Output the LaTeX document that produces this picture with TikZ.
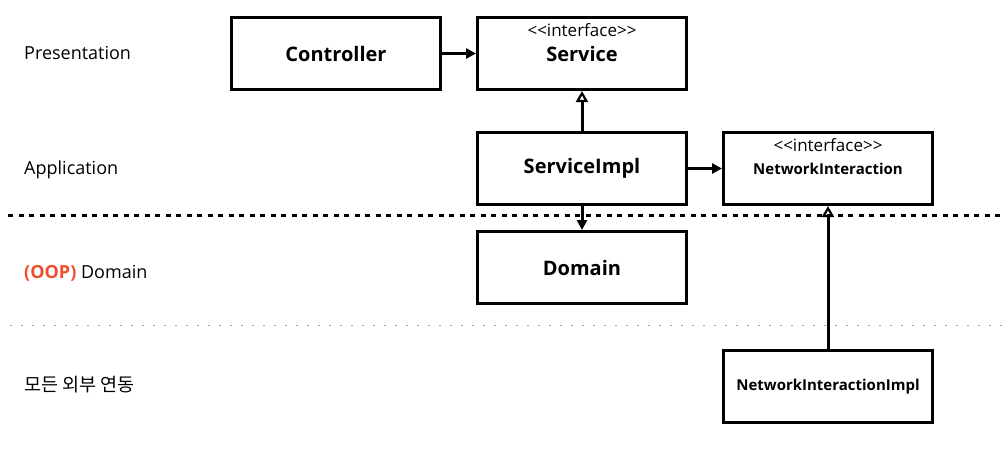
\documentclass[tikz,border=0pt]{standalone}
\usepackage{fontspec}
\setmainfont{Open Sans}
\newfontfamily\plainsans{Open Sans}[Ligatures=TeXOff]
\newfontfamily\kr{Noto Sans CJK KR}
\usetikzlibrary{arrows.meta}
\definecolor{oop}{RGB}{240,75,45}
\definecolor{dotgray}{RGB}{160,160,160}
\tikzset{
  box/.style={draw=black, line width=3pt, fill=white, minimum width=209pt, minimum height=72pt, inner sep=0pt, font=\fontsize{20}{24}\selectfont\bfseries},
  smallbox/.style={box, font=\fontsize{15}{18}\selectfont\bfseries},
  stereo/.style={inner sep=0pt, font=\plainsans\fontsize{17}{20}\selectfont},
  layer/.style={anchor=west, inner sep=0pt, font=\fontsize{18}{21}\selectfont},
  uses/.style={line width=3pt, -{Triangle[length=10pt,width=10pt]}},
  impl/.style={line width=3pt, -{Triangle[open,length=11pt,width=12pt,line width=2.2pt]}},
  bigdash/.style={line width=3pt, dash pattern=on 5pt off 5.5pt},
  thindot/.style={line width=1.2pt, draw=dotgray, dash pattern=on 2pt off 9pt}
}
\newcommand{\stereotype}{<<interface>>}
\begin{document}
\begin{tikzpicture}[x=1pt,y=-1pt]
\useasboundingbox (0,0) rectangle (1005,448);
% layer separators
\coordinate (d1l) at (8,215);
\coordinate (d1r) at (1005,215);
\coordinate (d2l) at (10,325.5);
\coordinate (d2r) at (1005,325.5);
\draw[bigdash] (d1l) -- (d1r);
\draw[thindot] (d2l) -- (d2r);
% layer labels
\node[layer] (lp) at (24,53) {Presentation};
\node[layer] (la) at (24,170) {Application};
\node[layer] (ld) at (24,273) {\textcolor{oop}{\bfseries (OOP)} Domain};
\node[layer] (lk) at (24,385) {\kr\fontsize{18.5}{21}\selectfont 모든 외부 연동};
% boxes
\node[box] (ctrl) at (336,53.5) {Controller};
\node[box] (svc) at (582,53.5) {Service};
\node[box] (simpl) at (582,168.5) {ServiceImpl};
\node[smallbox] (ni) at (828,168.5) {NetworkInteraction};
\node[box] (dom) at (582,267.5) {Domain};
\node[smallbox] (nii) at (828,386.5) {NetworkInteractionImpl};
\node[stereo] (s1) at (582,30) {\stereotype};
\node[stereo] (s2) at (828,145.5) {\stereotype};
% connectors
\draw[uses] (ctrl.east) -- (svc.west);
\draw[impl] (simpl.north) -- (svc.south);
\draw[uses] (simpl.east) -- (ni.west);
\draw[uses] (simpl.south) -- (dom.north);
\draw[impl] (nii.north) -- (ni.south);
\end{tikzpicture}
\end{document}
